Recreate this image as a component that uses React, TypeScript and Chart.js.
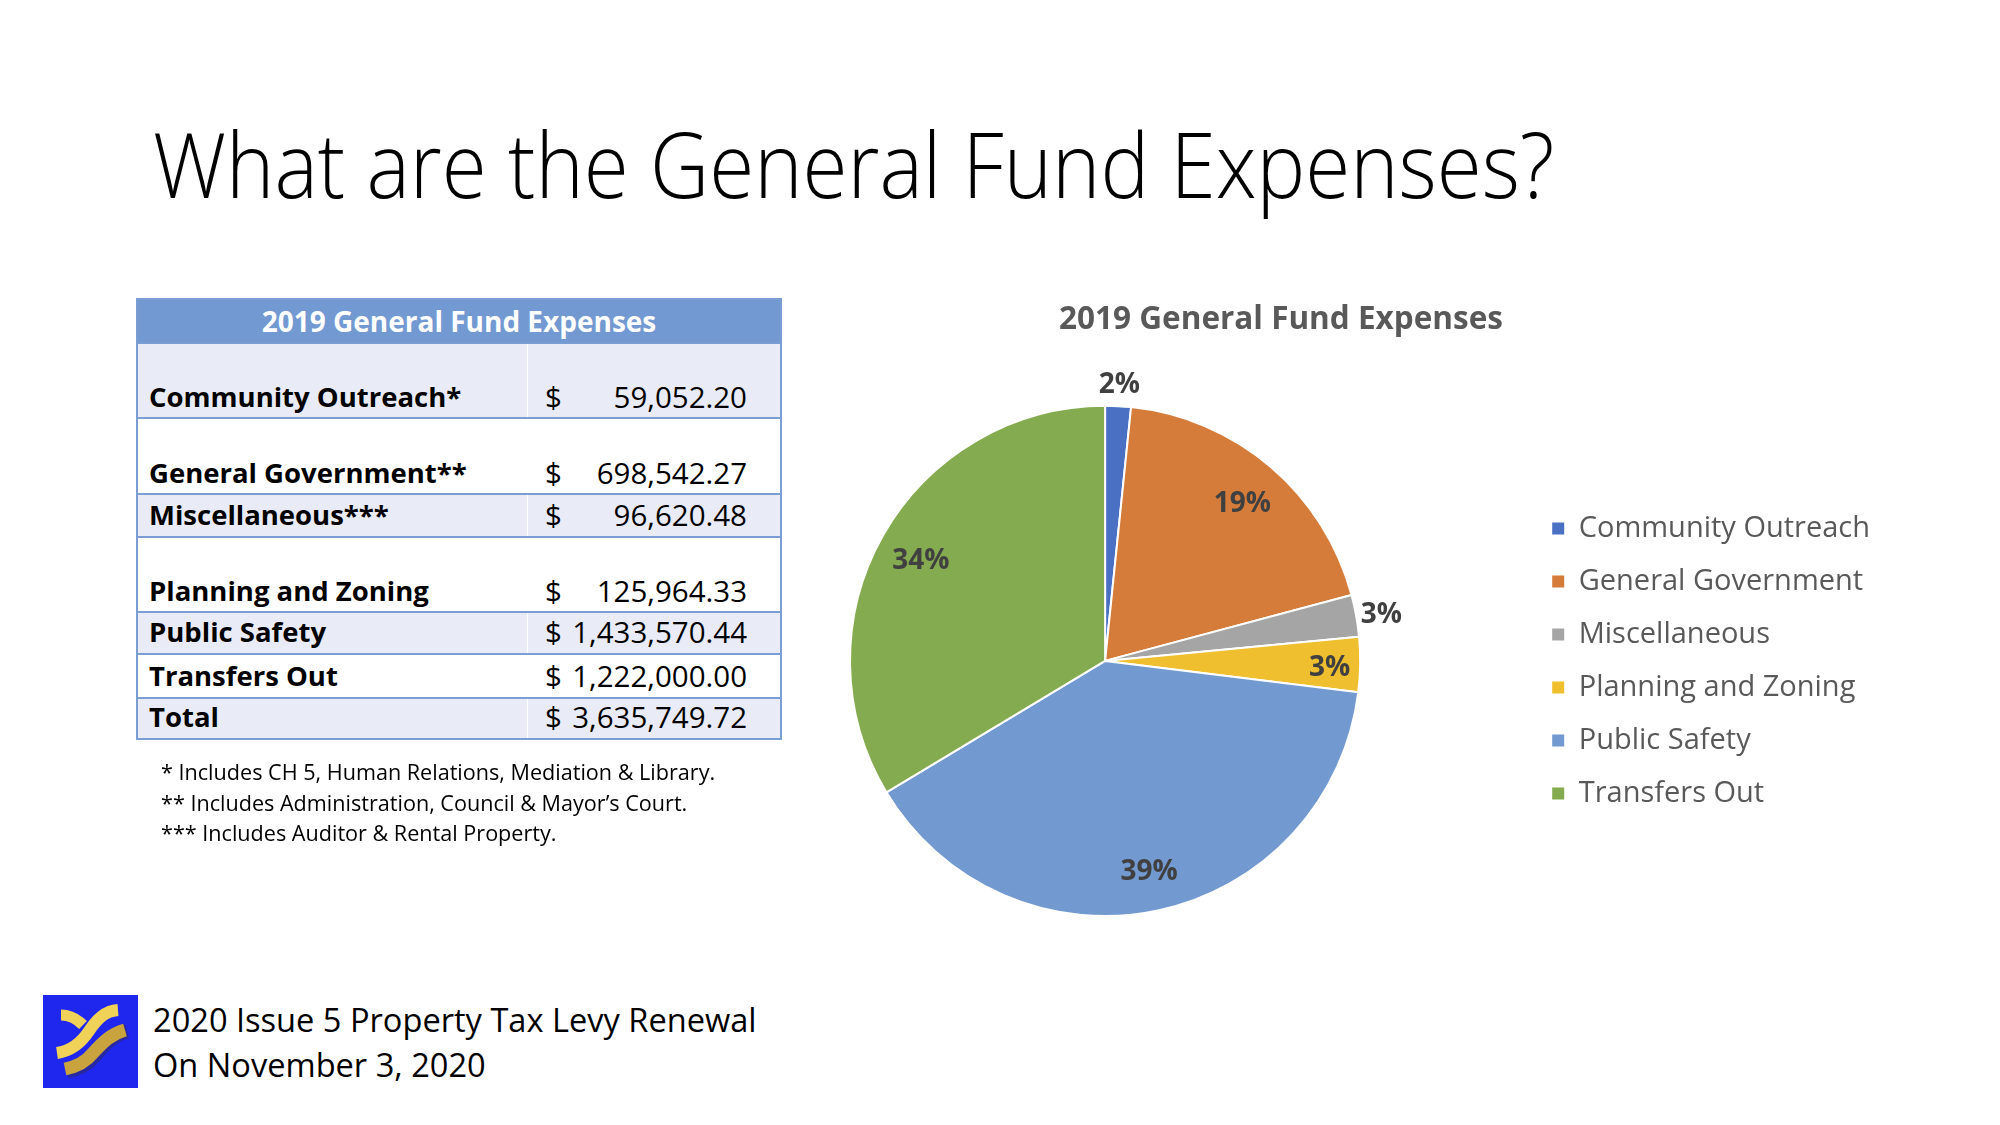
import React, { useEffect, useRef } from 'react';
import { Chart, registerables } from 'chart.js';

Chart.register(...registerables);

// ---------- data ----------
const slideTitle = 'What are the General Fund Expenses?';
const chartTitle = '2019 General Fund Expenses';
const categories = [
  'Community Outreach',
  'General Government',
  'Miscellaneous',
  'Planning and Zoning',
  'Public Safety',
  'Transfers Out',
];
const expenses = [59052.2, 698542.27, 96620.48, 125964.33, 1433570.44, 1222000.0];
const tableMarks = ['*', '**', '***', '', '', ''];
const totalLabel = 'Total';
const sliceColors = ['#4A70C4', '#D57C3B', '#A5A5A5', '#EFBF2F', '#729AD0', '#85AB50'];
const footnotes = [
  '* Includes CH 5, Human Relations, Mediation & Library.',
  '** Includes Administration, Council & Mayor\u2019s Court.',
  '*** Includes Auditor & Rental Property.',
];
const footerLines = ['2020 Issue 5 Property Tax Levy Renewal', 'On November 3, 2020'];

// ---------- helpers ----------
const fmt = (v: number) =>
  v.toLocaleString('en-US', { minimumFractionDigits: 2, maximumFractionDigits: 2 });

const FONT = "'Open Sans', 'DejaVu Sans', sans-serif";

const pctLabelPlugin = {
  id: 'pctLabels',
  afterDatasetsDraw(chart: any) {
    const ctx = chart.ctx;
    const meta = chart.getDatasetMeta(0);
    const data = chart.data.datasets[0].data as number[];
    const total = data.reduce((a, b) => a + b, 0);
    ctx.save();
    ctx.font = `bold 28px ${FONT}`;
    ctx.fillStyle = '#404040';
    ctx.textAlign = 'center';
    ctx.textBaseline = 'middle';
    meta.data.forEach((arc: any, i: number) => {
      const { x, y, startAngle, endAngle, outerRadius } = arc.getProps(
        ['x', 'y', 'startAngle', 'endAngle', 'outerRadius'],
        true
      );
      const frac = data[i] / total;
      const mid = (startAngle + endAngle) / 2;
      const r = frac < 0.03 ? outerRadius * 1.1 : frac < 0.05 ? outerRadius * 0.88 : outerRadius * 0.83;
      ctx.fillText(Math.round(frac * 100) + '%', x + r * Math.cos(mid), y + r * Math.sin(mid) + 4);
    });
    ctx.restore();
  },
};

function PieChart() {
  const ref = useRef<HTMLCanvasElement>(null);
  useEffect(() => {
    if (!ref.current) return;
    const chart = new Chart(ref.current, {
      type: 'pie',
      data: {
        labels: categories,
        datasets: [
          {
            data: expenses,
            backgroundColor: sliceColors,
            borderColor: '#ffffff',
            borderWidth: 2,
            hoverOffset: 0,
          },
        ],
      },
      options: {
        animation: false,
        responsive: false,
        maintainAspectRatio: false,
        layout: { padding: { left: 82, right: 40, top: 0, bottom: 20 } },
        plugins: {
          title: {
            display: true,
            text: chartTitle,
            color: '#595959',
            font: { family: FONT, size: 31.5, weight: 'bold' },
            padding: { top: 31.5, bottom: 65.5 },
          },
          legend: {
            position: 'right',
            fullSize: false,
            labels: {
              color: '#595959',
              font: { family: FONT, size: 29 },
              boxWidth: 12,
              boxHeight: 12,
              padding: 24,
              generateLabels: (c: any) =>
                (Chart as any).overrides.pie.plugins.legend.labels
                  .generateLabels(c)
                  .map((l: any) => ({ ...l, lineWidth: 0, strokeStyle: l.fillStyle })),
            },
          },
          tooltip: { enabled: false },
        },
      } as any,
      plugins: [pctLabelPlugin],
    });
    return () => chart.destroy();
  }, []);
  return (
    <canvas
      ref={ref}
      width={1320}
      height={667}
      style={{ position: 'absolute', left: 600, top: 270, width: 1320, height: 667 }}
    />
  );
}

function Logo() {
  return (
    <svg
      width={95}
      height={93}
      viewBox="0 0 95 93"
      style={{ position: 'absolute', left: 43, top: 995 }}
    >
      <rect x={0} y={0} width={95} height={93} fill="#1F27EE" />
      <path d="M 84 36 C 70 40, 62 48, 52 60 C 44 70, 34 74, 24 76" stroke="#3a2a10" strokeWidth={15} fill="none" opacity={0.35} />
      <path d="M 82 35 C 68 39, 60 47, 50 58 C 42 68, 32 72, 22 74" stroke="#C9A33E" strokeWidth={13} fill="none" />
      <path d="M 18 20 C 28 20, 34 24, 40 30" stroke="#F1D259" strokeWidth={11} fill="none" />
      <path d="M 75 15 C 62 16, 54 24, 46 36 C 38 48, 28 56, 14 58" stroke="#F1D259" strokeWidth={12} fill="none" />
    </svg>
  );
}

const rowHeights = [75, 76, 43, 75, 42, 44];
const totalHeight = 41;
const borderCol = '#7A9ED4';
const shadeCol = '#E9ECF6';

function ExpenseTable() {
  const total = expenses.reduce((a, b) => a + b, 0);
  const rows = categories.map((c, i) => ({
    label: c + tableMarks[i],
    value: expenses[i],
    h: rowHeights[i],
    shaded: i % 2 === 0,
  }));
  rows.push({ label: totalLabel, value: total, h: totalHeight, shaded: true });
  return (
    <div
      style={{
        position: 'absolute',
        left: 136,
        top: 298,
        width: 646,
        boxSizing: 'border-box',
        border: `2px solid ${borderCol}`,
        fontFamily: FONT,
      }}
    >
      <div
        style={{
          height: 42,
          background: '#7299D1',
          color: '#fff',
          fontWeight: 'bold',
          fontSize: 28,
          display: 'flex',
          alignItems: 'center',
          justifyContent: 'center',
          lineHeight: '34px',
        }}
      >
        {chartTitle}
      </div>
      {rows.map((r, i) => (
        <div
          key={i}
          style={{
            height: r.h,
            boxSizing: 'border-box',
            borderTop: `2px solid ${borderCol}`,
            background: r.shaded ? shadeCol : '#fff',
            display: 'flex',
            alignItems: 'flex-end',
            lineHeight: '34px',
            color: '#000',
          }}
        >
          <div
            style={{
              width: 389,
              paddingLeft: 11,
              paddingBottom: r.h > 60 ? 3 : 4,
              fontWeight: 'bold',
              fontSize: 27.5,
              whiteSpace: 'nowrap',
              boxSizing: 'border-box',
            }}
          >
            {r.label}
          </div>
          <div
            style={{
              flex: 1,
              alignSelf: 'stretch',
              borderLeft: '1.5px solid #fff',
              display: 'flex',
              alignItems: 'flex-end',
              justifyContent: 'space-between',
              paddingLeft: 17,
              paddingRight: 33,
              paddingBottom: r.h > 60 ? 3 : 4,
              fontSize: 29.5,
              whiteSpace: 'nowrap',
            }}
          >
            <span>$</span>
            <span>{fmt(r.value)}</span>
          </div>
        </div>
      ))}
    </div>
  );
}

export default function App() {
  return (
    <div
      style={{
        position: 'absolute',
        left: 0,
        top: 0,
        width: 2000,
        height: 1125,
        background: '#fff',
        overflow: 'hidden',
        fontFamily: FONT,
      }}
    >
      <PieChart />
      <div
        style={{
          position: 'absolute',
          left: 153,
          top: 118,
          fontSize: 90,
          lineHeight: '90px',
          fontWeight: 300,
          color: '#000',
          whiteSpace: 'nowrap',
          transform: 'scaleX(0.91)',
          transformOrigin: 'left top',
        }}
      >
        {slideTitle}
      </div>
      <ExpenseTable />
      <div
        style={{
          position: 'absolute',
          left: 161,
          top: 757,
          fontSize: 21.6,
          lineHeight: '30.5px',
          color: '#000',
          whiteSpace: 'nowrap',
        }}
      >
        {footnotes.map((f, i) => (
          <div key={i}>{f}</div>
        ))}
      </div>
      <Logo />
      <div
        style={{
          position: 'absolute',
          left: 153,
          top: 997,
          fontSize: 32.6,
          lineHeight: '45px',
          color: '#000',
          whiteSpace: 'nowrap',
        }}
      >
        {footerLines.map((f, i) => (
          <div key={i}>{f}</div>
        ))}
      </div>
    </div>
  );
}
